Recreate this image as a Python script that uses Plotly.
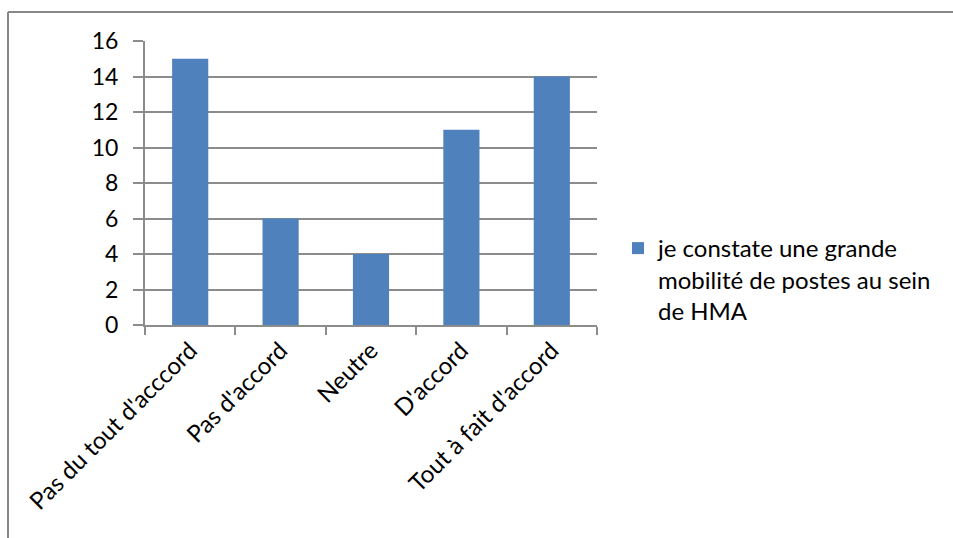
import plotly.graph_objects as go

categories = ["Pas du tout d'acccord", "Pas d'accord", "Neutre", "D'accord", "Tout à fait d'accord"]
values = [15, 6, 4, 11, 14]
series_name = "je constate une grande<br>mobilité de postes au sein<br>de HMA"
y_ticks = [0, 2, 4, 6, 8, 10, 12, 14, 16]

W, H = 953, 538
L, R, T, B = 145, 356, 41, 213
pw, ph = W - L - R, H - T - B

def px_to_paper_x(px):
    return (px - L) / pw

def px_to_paper_y(py):
    return (H - B - py) / ph

grid = "#8c8c8c"
font = "Lato, Open Sans, sans-serif"

fig = go.Figure()
fig.add_trace(go.Bar(x=categories, y=values, name=series_name,
                     marker=dict(color="#4F81BD", line=dict(width=0)),
                     showlegend=True))

fig.update_layout(
    width=W, height=H,
    margin=dict(l=L, r=R, t=T, b=B),
    paper_bgcolor="white", plot_bgcolor="white",
    bargap=0.6,
    font=dict(family=font, size=24, color="black"),
    showlegend=True,
    legend=dict(x=px_to_paper_x(618), y=px_to_paper_y(226), xanchor="left", yanchor="top",
                font=dict(size=24), bgcolor="rgba(0,0,0,0)", tracegroupgap=0, valign="top"),
    xaxis=dict(type="category", showgrid=False, showline=True, linecolor=grid, linewidth=2,
               ticks="outside", tickson="boundaries", ticklen=8, tickwidth=2, tickcolor=grid,
               tickangle=-45, tickfont=dict(size=24)),
    yaxis=dict(range=[0, 16], tickvals=y_ticks, showgrid=True, gridcolor=grid, gridwidth=2,
               showline=True, linecolor=grid, linewidth=2, ticks="outside", ticklen=10,
               tickwidth=2, tickcolor=grid, zeroline=False, tickfont=dict(size=23),
               ticklabelstandoff=10),
    shapes=[
        dict(type="line", xref="paper", yref="paper",
             x0=px_to_paper_x(8), x1=px_to_paper_x(953), y0=px_to_paper_y(12), y1=px_to_paper_y(12),
             line=dict(color="#888888", width=2)),
        dict(type="line", xref="paper", yref="paper",
             x0=px_to_paper_x(8), x1=px_to_paper_x(8), y0=px_to_paper_y(12), y1=px_to_paper_y(538),
             line=dict(color="#888888", width=2)),
    ],
)

fig.write_html("out.html")
